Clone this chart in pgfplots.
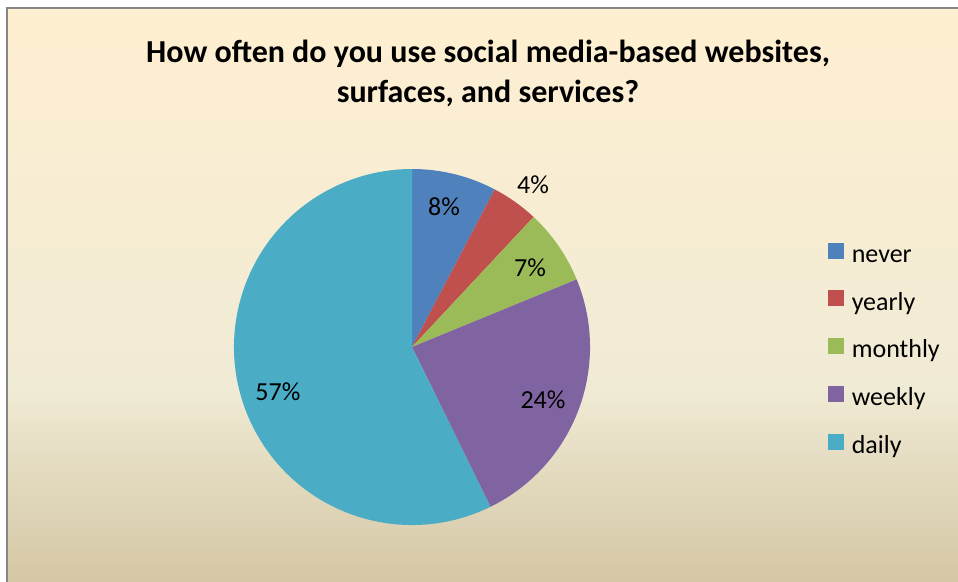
\documentclass[border=0pt]{standalone}
\usepackage{pgfplots}
\pgfplotsset{compat=1.18}
\usepackage{pgfplotstable}
\usepackage{fontspec}
\setmainfont{Carlito}

\definecolor{pie0}{HTML}{4F81BD}
\definecolor{pie1}{HTML}{C0504D}
\definecolor{pie2}{HTML}{9BBB59}
\definecolor{pie3}{HTML}{8064A2}
\definecolor{pie4}{HTML}{4BACC6}
\definecolor{ptop}{HTML}{FFEFD1}
\definecolor{pmid}{HTML}{F0EBD5}
\definecolor{pbot}{HTML}{D1C39F}
\definecolor{frame}{HTML}{868686}
\pgfdeclareverticalshading{parch}{100bp}{color(0bp)=(pbot); color(25bp)=(pbot); color(43bp)=(pmid); color(75bp)=(ptop); color(100bp)=(ptop)}

% answers (counts) in clockwise order from 12 o'clock
\pgfplotstableread{
label value
never 9
yearly 5
monthly 8
weekly 28
daily 67
}\piedata

% data labels: position (axis units) and printed percentage
\pgfplotstableread{
x y pct
0.180 0.787 8
0.680 0.910 4
0.663 0.444 7
0.736 -0.298 24
-0.753 -0.253 57
}\pielabels

% cumulative angles
\xdef\cumA{0}
\pgfplotsforeachungrouped \i in {0,...,4}{%
  \pgfplotstablegetelem{\i}{value}\of\piedata
  \pgfmathsetmacro\tmpend{\cumA+\pgfplotsretval}%
  \expandafter\xdef\csname cs\i\endcsname{\cumA}%
  \expandafter\xdef\csname ce\i\endcsname{\tmpend}%
  \xdef\cumA{\tmpend}%
}
\pgfplotsforeachungrouped \i in {0,...,4}{%
  \pgfmathsetmacro\tmpa{90-(\csname cs\i\endcsname/\cumA)*360}%
  \pgfmathsetmacro\tmpb{90-(\csname ce\i\endcsname/\cumA)*360}%
  \expandafter\xdef\csname pa\i\endcsname{\tmpa}%
  \expandafter\xdef\csname pb\i\endcsname{\tmpb}%
}

\begin{document}
\begin{tikzpicture}
\useasboundingbox (0pt,0pt) rectangle (958pt,-581pt);
\begin{scope}
\clip (0pt,0pt) rectangle (958pt,-581pt);
\shade[shading=parch] (7pt,-8pt) rectangle (975pt,-600pt);
\draw[frame, line width=1.3pt] (7pt,-8pt) rectangle (975pt,-600pt);
\end{scope}

\node[font=\bfseries\fontsize{32}{40}\selectfont, align=center] at (488pt,-73pt)
  {How often do you use social media-based websites,\\surfaces, and services?};

\begin{axis}[
  at={(412pt,-347pt)}, anchor=center,
  width=356pt, height=356pt, scale only axis,
  xmin=-1, xmax=1, ymin=-1, ymax=1,
  hide axis, clip=false,
  /pgf/number format/assume math mode=true,
  legend cell align=left,
  legend style={
    at={(axis description cs:1.669,0.49)}, anchor=west,
    draw=none, fill=none, inner sep=0pt,
    font=\fontsize{26}{30}\selectfont,
    row sep=23.1pt, column sep=8pt,
    nodes={inner sep=0pt, text height=17pt, text depth=5pt},
  },
]
\pgfplotsinvokeforeach{0,...,4}{%
  \fill[pie#1] (axis cs:0,0) -- (axis cs:{cos(\csname pa#1\endcsname)},{sin(\csname pa#1\endcsname)})
    arc[start angle=\csname pa#1\endcsname, end angle=\csname pb#1\endcsname, radius=1] -- cycle;
}
\addlegendimage{legend image code/.code={\fill[pie0] (0pt,-1.5pt) rectangle (15pt,13.5pt);}}
\addlegendentry{never}
\addlegendimage{legend image code/.code={\fill[pie1] (0pt,-1.5pt) rectangle (15pt,13.5pt);}}
\addlegendentry{yearly}
\addlegendimage{legend image code/.code={\fill[pie2] (0pt,-1.5pt) rectangle (15pt,13.5pt);}}
\addlegendentry{monthly}
\addlegendimage{legend image code/.code={\fill[pie3] (0pt,-1.5pt) rectangle (15pt,13.5pt);}}
\addlegendentry{weekly}
\addlegendimage{legend image code/.code={\fill[pie4] (0pt,-1.5pt) rectangle (15pt,13.5pt);}}
\addlegendentry{daily}

\addplot[only marks, mark=none, forget plot, point meta=explicit,
  nodes near coords={\pgfmathprintnumber[fixed,precision=0,assume math mode=true]{\pgfplotspointmeta}\%},
  every node near coord/.append style={anchor=center, inner sep=0pt,
    font=\fontsize{26}{30}\selectfont, text=black}]
  table[x=x, y=y, meta=pct] {\pielabels};
\end{axis}
\end{tikzpicture}
\end{document}
